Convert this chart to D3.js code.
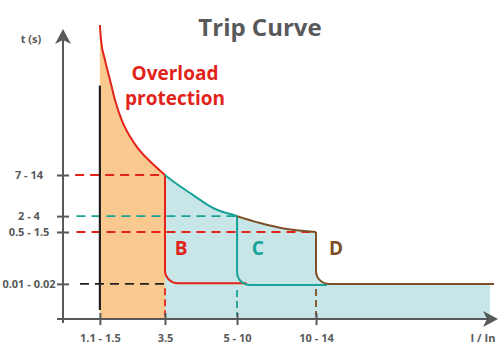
<!DOCTYPE html>
<html><head><meta charset="utf-8">
<script src="https://cdn.jsdelivr.net/npm/d3@7"></script>
<style>html,body{margin:0;padding:0;background:#fff;}svg{display:block;font-family:"Open Sans",sans-serif;}</style>
</head><body>
<script>
// ---- data ----
const xTickPos = [8.5, 23.5, 40.1, 58.3];
const xTickLabels = ["1.1 - 1.5", "3.5", "5 - 10", "10 - 14"];
const yTickPos = [48, 34.3, 29, 11.7];
const yTickLabels = ["7 - 14", "2 - 4", "0.5 - 1.5", "0.01 - 0.02"];
const guideColors = ["#e2231a", "#17a398", "#e2231a", "#231f20"];
const guideStart = [2.8, 3.1, 3.1, 3.9];
const guideEnd = [23.5, 40.1, 57.5, 23.5];
// thermal (overload) curve
const thermalX = [8.5, 8.76, 9.68, 10.83, 11.98, 13.53, 15.44, 17.05, 21.2, 23.5, 30.0, 34.6, 40.1, 45.4, 51.6, 58.3];
const thermalT = [98, 93, 86.3, 79.7, 73, 66.3, 60.8, 57.3, 51, 48, 41.3, 37, 34.3, 32, 30, 29];
const bIndex = 9;
// magnetic trip curves B, C, D
const curveNames = ["B", "C", "D"];
const curveColors = ["#e2231a", "#17a398", "#7d4f24"];
const magneticX = [23.5, 40.1, 58.3];
const magneticTop = [48, 34.3, 29];
const instantT = [11.9, 11.3, 11.7];
const instantEnd = [42.3, 60.8, 99.3];
const labelX = [27.2, 44.9, 62.9];
const labelT = [21.3, 21.3, 21.3];
const fillEnd = 98.4;
const overloadStartX = 8.5;
const overloadTop = 77.8;

const W = 500, H = 357;
const x = d3.scaleLinear().domain([0, 100]).range([63, 497]);
const y = d3.scaleLinear().domain([0, 100]).range([319, 19]);
const gray = "#58595b";

const svg = d3.select("body").append("svg").attr("width", W).attr("height", H);
const defs = svg.append("defs");
function clip(id, x0, x1) {
  defs.append("clipPath").attr("id", id).append("rect")
    .attr("x", x(x0)).attr("y", 0).attr("width", x(x1) - x(x0)).attr("height", H);
}
clip("cOrange", 0, thermalX[bIndex]);
clip("cBlue", thermalX[bIndex], 100);
clip("cSeg0", 0, magneticX[0]);
clip("cSeg1", magneticX[0], magneticX[1]);
clip("cSeg2", magneticX[1], 100);

const pts = thermalX.map((v, i) => [v, thermalT[i]]);
const curveType = d3.curveMonotoneX;
const area = d3.area().x(d => x(d[0])).y0(y(0)).y1(d => y(d[1])).curve(curveType);
const line = d3.line().x(d => x(d[0])).y(d => y(d[1])).curve(curveType);

// fills
svg.append("path").attr("d", area(pts)).attr("fill", "#f9c98f").attr("clip-path", "url(#cOrange)");
svg.append("path").attr("d", area(pts)).attr("fill", "#c8e5e7").attr("clip-path", "url(#cBlue)");
const r = 13;
{
  const p = d3.path();
  const mx = x(magneticX[2]), ly = y(instantT[2]);
  p.moveTo(mx, y(0)); p.lineTo(mx, ly - r); p.arcTo(mx, ly, mx + r, ly, r);
  p.lineTo(x(fillEnd), ly); p.lineTo(x(fillEnd), y(0)); p.closePath();
  svg.append("path").attr("d", p.toString()).attr("fill", "#c8e5e7");
}

// horizontal dashed guides
yTickPos.forEach((t, i) => {
  svg.append("line").attr("x1", x(guideStart[i])).attr("x2", x(guideEnd[i]))
    .attr("y1", y(t)).attr("y2", y(t))
    .attr("stroke", guideColors[i]).attr("stroke-width", 1.8).attr("stroke-dasharray", "9,6");
});
// vertical dashed guides below curves
magneticX.forEach((m, i) => {
  svg.append("line").attr("x1", x(m)).attr("x2", x(m))
    .attr("y1", y(instantT[i]) + 5).attr("y2", y(0) - 3)
    .attr("stroke", curveColors[i]).attr("stroke-width", 1.8).attr("stroke-dasharray", "7,4");
});
// black overload start line
svg.append("line").attr("x1", x(overloadStartX)).attr("x2", x(overloadStartX))
  .attr("y1", y(overloadTop)).attr("y2", y(3)).attr("stroke", "#231f20").attr("stroke-width", 2.2);

// magnetic trip lines
curveNames.forEach((n, i) => {
  const p = d3.path();
  const mx = x(magneticX[i]), ly = y(instantT[i]);
  p.moveTo(mx, y(magneticTop[i])); p.lineTo(mx, ly - r);
  p.arcTo(mx, ly, mx + r, ly, r); p.lineTo(x(instantEnd[i]), ly);
  svg.append("path").attr("d", p.toString()).attr("fill", "none")
    .attr("stroke", curveColors[i]).attr("stroke-width", 2);
});
// thermal curve segments
["cSeg0", "cSeg1", "cSeg2"].forEach((c, i) => {
  svg.append("path").attr("d", line(pts)).attr("fill", "none")
    .attr("stroke", curveColors[i]).attr("stroke-width", 2).attr("clip-path", `url(#${c})`);
});

// axes
const yAxis = d3.axisLeft(y).tickValues(yTickPos).tickFormat((d, i) => yTickLabels[i]).tickSize(12).tickSizeOuter(0);
const gy = svg.append("g").attr("transform", `translate(${x(0) + 6},0)`).call(yAxis);
gy.select(".domain").remove();
gy.selectAll(".tick line").attr("stroke", gray).attr("stroke-width", 2);
gy.selectAll(".tick text").attr("x", -40).attr("text-anchor", "middle")
  .attr("fill", gray).style("font-size", "11px").style("font-weight", 700).style("font-family", "Open Sans");

const xAxis = d3.axisBottom(x).tickValues(xTickPos).tickFormat((d, i) => xTickLabels[i]).tickSize(12).tickSizeOuter(0);
const gx = svg.append("g").attr("transform", `translate(0,${y(0) - 6})`).call(xAxis);
gx.select(".domain").remove();
gx.selectAll(".tick line").attr("stroke", gray).attr("stroke-width", 2);
gx.selectAll(".tick text").attr("y", 28.5).attr("dy", 0)
  .attr("fill", gray).style("font-size", "11px").style("font-weight", 700).style("font-family", "Open Sans");

// axis lines + arrows
svg.append("line").attr("x1", x(0)).attr("x2", x(0)).attr("y1", y(0) + 4).attr("y2", y(95))
  .attr("stroke", gray).attr("stroke-width", 2);
svg.append("line").attr("x1", x(0) - 6).attr("x2", x(98)).attr("y1", y(0)).attr("y2", y(0))
  .attr("stroke", gray).attr("stroke-width", 2);
svg.append("path").attr("fill", gray)
  .attr("d", `M${x(0)},${y(96.7)} L${x(0) + 8},${y(96.7) + 15} L${x(0)},${y(96.7) + 11} L${x(0) - 8},${y(96.7) + 15}Z`);
svg.append("path").attr("fill", gray)
  .attr("d", `M${x(100) + 1},${y(0)} L${x(100) - 14},${y(0) - 8} L${x(100) - 10},${y(0)} L${x(100) - 14},${y(0) + 8}Z`);

// texts
svg.append("text").attr("x", 260).attr("y", 36).attr("text-anchor", "middle")
  .attr("fill", gray).style("font-size", "24px").style("font-weight", 700).text("Trip Curve");
svg.append("text").attr("x", 31).attr("y", 43).attr("text-anchor", "middle")
  .attr("fill", gray).style("font-size", "11px").style("font-weight", 700).text("t (s)");
svg.append("text").attr("x", 483).attr("y", 342).attr("text-anchor", "middle")
  .attr("fill", gray).style("font-size", "11px").style("font-weight", 700).text("I / In");
const ov = svg.append("text").attr("text-anchor", "middle").attr("fill", "#e2231a")
  .style("font-size", "19px").style("font-weight", 700);
ov.append("tspan").attr("x", 175).attr("y", 80).text("Overload");
ov.append("tspan").attr("x", 175).attr("y", 104.5).text("protection");
curveNames.forEach((n, i) => {
  svg.append("text").attr("x", x(labelX[i])).attr("y", y(labelT[i])).attr("text-anchor", "middle")
    .attr("fill", curveColors[i]).style("font-size", "19px").style("font-weight", 700).text(n);
});
</script>
</body></html>
